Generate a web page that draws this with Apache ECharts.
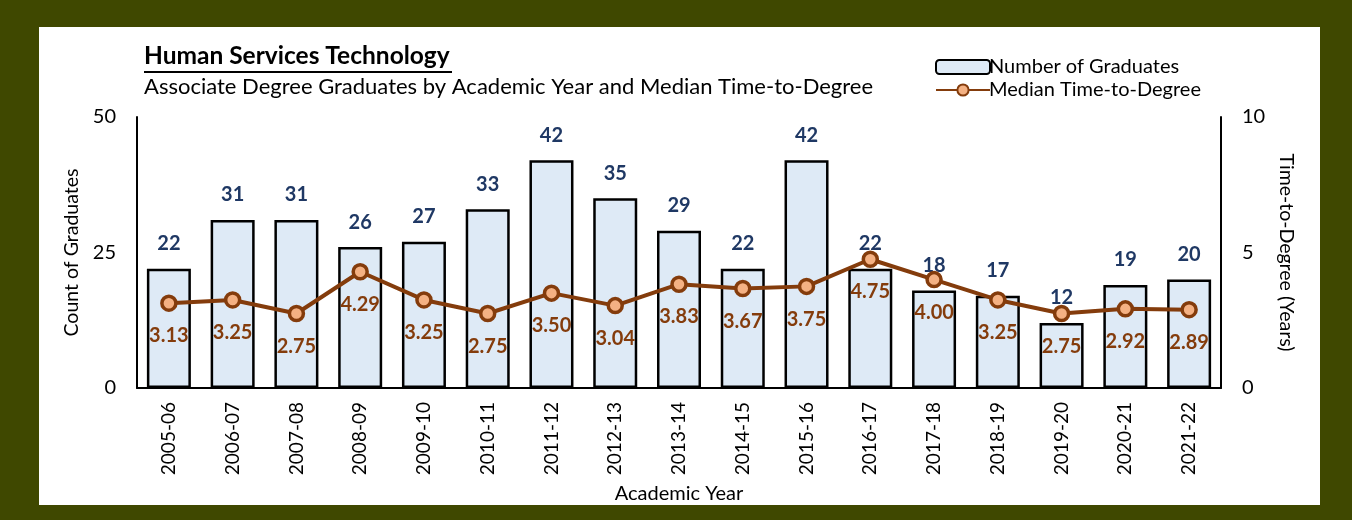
<!DOCTYPE html>
<html>
<head>
<meta charset="utf-8">
<script src="https://cdn.jsdelivr.net/npm/echarts@6/dist/echarts.min.js"></script>
<style>
  body { margin: 0; background: #3F4800; }
  #panel { position: absolute; left: 39px; top: 27px; width: 1281px; height: 478px; background: #fff; }
  #chart { position: absolute; left: 0; top: 0; width: 1352px; height: 520px; }
</style>
</head>
<body>
<div id="panel"></div>
<div id="chart"></div>
<script>
var years = ['2005-06', '2006-07', '2007-08', '2008-09', '2009-10', '2010-11', '2011-12', '2012-13',
  '2013-14', '2014-15', '2015-16', '2016-17', '2017-18', '2018-19', '2019-20', '2020-21', '2021-22'];
var graduates = [22, 31, 31, 26, 27, 33, 42, 35, 29, 22, 42, 22, 18, 17, 12, 19, 20];
var medianTime = [3.13, 3.25, 2.75, 4.29, 3.25, 2.75, 3.50, 3.04, 3.83, 3.67, 3.75, 4.75, 4.00, 3.25, 2.75, 2.92, 2.89];
var leftTicks = [0, 25, 50];
var rightTicks = [0, 5, 10];

var font = 'Lato, "Noto Sans", sans-serif';
var chart = echarts.init(document.getElementById('chart'));

chart.setOption({
  backgroundColor: 'transparent',
  textStyle: { fontFamily: font },
  graphic: [
    {
      type: 'text', left: 144, top: 44,
      style: { text: 'Human Services Technology', font: 'bold 24.5px ' + font, fill: '#000' }
    },
    {
      type: 'line', shape: { x1: 144, y1: 72, x2: 452, y2: 72 },
      style: { stroke: '#000', lineWidth: 2 }
    },
    {
      type: 'text', left: 144, top: 76,
      style: { text: 'Associate Degree Graduates by Academic Year and Median Time-to-Degree', font: '22px ' + font, fill: '#000' }
    }
  ],
  legend: {
    left: 930, top: 52,
    orient: 'vertical',
    itemWidth: 54, itemHeight: 14, itemGap: 3,
    textStyle: { fontSize: 20, color: '#000', padding: [0, 0, 0, -6] },
    data: ['Number of Graduates', 'Median Time-to-Degree']
  },
  grid: { left: 137, right: 131, top: 117, bottom: 132 },
  xAxis: {
    type: 'category',
    data: years,
    name: 'Academic Year',
    nameLocation: 'middle',
    nameGap: 92,
    nameTextStyle: { fontSize: 20, color: '#000' },
    axisLine: { lineStyle: { color: '#000', width: 2 } },
    axisTick: { show: false },
    axisLabel: { rotate: 90, fontSize: 19, color: '#000', margin: 14, interval: 0 }
  },
  yAxis: [
    {
      type: 'value', min: leftTicks[0], max: leftTicks[2], interval: leftTicks[1],
      name: 'Count of Graduates',
      nameLocation: 'middle', nameGap: 54,
      nameTextStyle: { fontSize: 19.5, color: '#000' },
      axisLine: { show: true, lineStyle: { color: '#000', width: 2 } },
      axisTick: { show: false },
      splitLine: { show: false },
      axisLabel: { fontSize: 20, color: '#000', margin: 21 }
    },
    {
      type: 'value', min: rightTicks[0], max: rightTicks[2], interval: rightTicks[1],
      name: 'Time-to-Degree (Years)',
      nameLocation: 'middle', nameGap: 54, nameRotate: -90,
      nameTextStyle: { fontSize: 19.5, color: '#000' },
      axisLine: { show: true, lineStyle: { color: '#000', width: 2 } },
      axisTick: { show: false },
      splitLine: { show: false },
      axisLabel: { fontSize: 20, color: '#000', margin: 21 }
    }
  ],
  series: [
    {
      name: 'Number of Graduates',
      type: 'bar',
      data: graduates,
      barWidth: '69%',
      itemStyle: { color: '#DEEAF6', borderColor: '#000', borderWidth: 2.5 },
      label: {
        show: true, position: 'top', distance: 15,
        fontSize: 20, fontWeight: 'bold', color: '#1F3864'
      }
    },
    {
      name: 'Median Time-to-Degree',
      type: 'line',
      yAxisIndex: 1,
      data: medianTime,
      symbol: 'circle',
      symbolSize: 14,
      lineStyle: { color: '#843C0C', width: 4 },
      itemStyle: { color: '#F4B183', borderColor: '#843C0C', borderWidth: 3.5 },
      label: {
        show: true, position: 'bottom', distance: 14,
        fontSize: 20, fontWeight: 'bold', color: '#843C0C',
        formatter: function (p) { return p.value.toFixed(2); }
      },
      z: 5
    }
  ]
});
</script>
</body>
</html>
